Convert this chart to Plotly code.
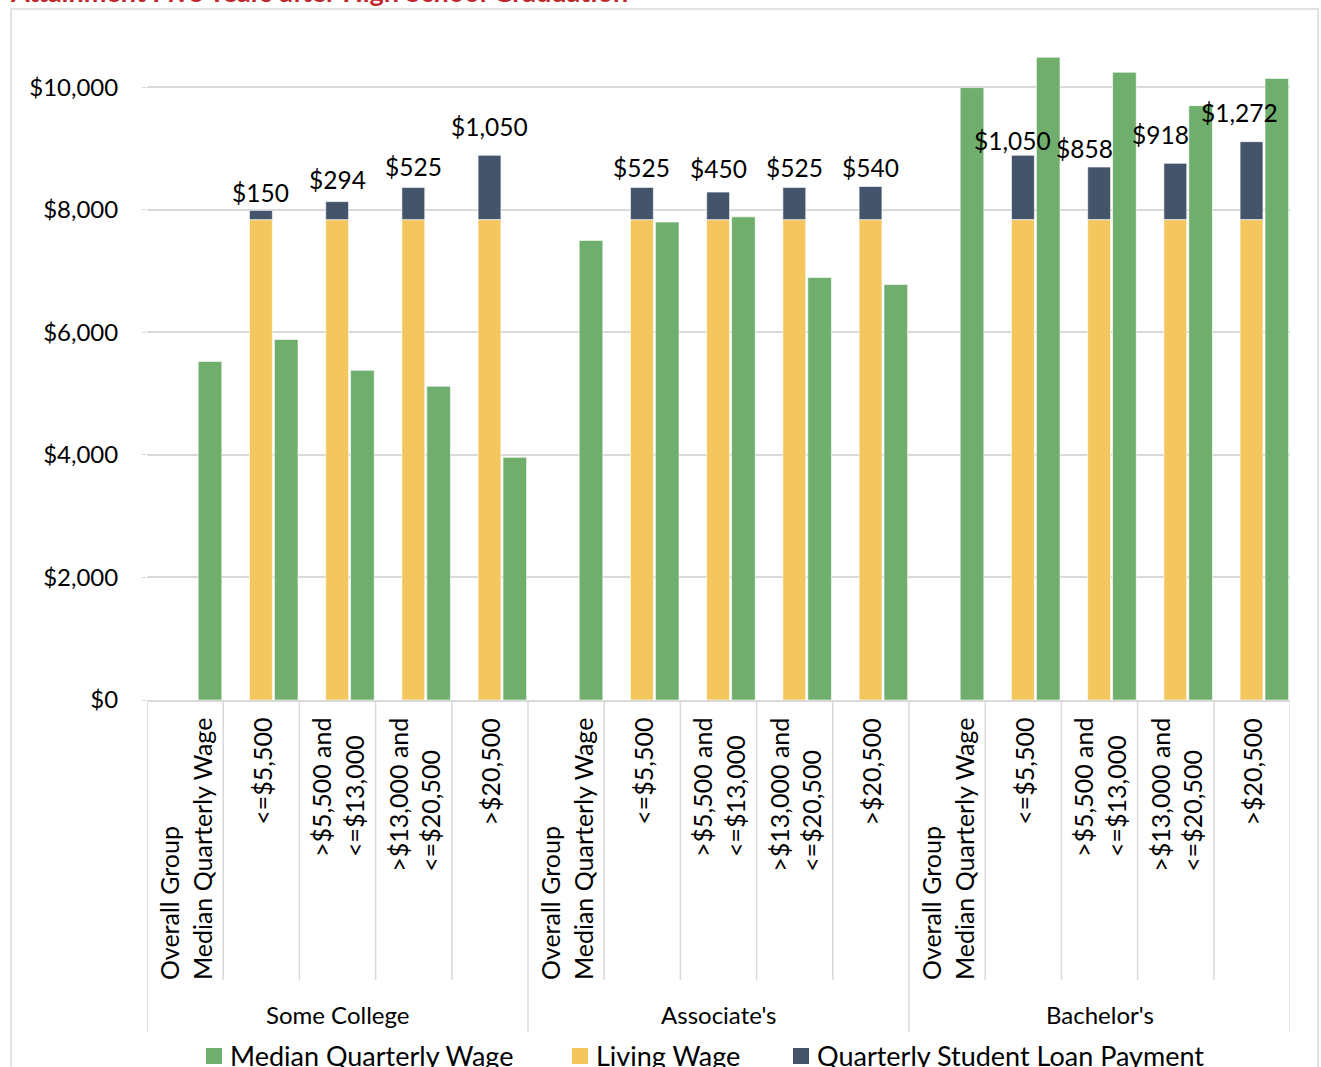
import plotly.graph_objects as go

# ---------------- data ----------------
groups = ["Some College", "Associate's", "Bachelor's"]
subcategories = [
    "Overall Group\nMedian Quarterly Wage",
    "<=$5,500",
    ">$5,500 and\n<=$13,000",
    ">$13,000 and\n<=$20,500",
    ">$20,500",
]
median_wage = [5525, 5885, 5380, 5120, 3960,
               7500, 7800, 7885, 6895, 6780,
               9995, 10490, 10245, 9700, 10145]
living_wage = [None, 7840, 7840, 7840, 7840,
               None, 7840, 7840, 7840, 7840,
               None, 7840, 7840, 7840, 7840]
loan_payment = [None, 150, 294, 525, 1050,
                None, 525, 450, 525, 540,
                None, 1050, 858, 918, 1272]
y_tick_values = [0, 2000, 4000, 6000, 8000, 10000]
y_tick_labels = ["$0", "$2,000", "$4,000", "$6,000", "$8,000", "$10,000"]
title_text = "Attainment Five Years after High School Graduation"
series_names = ["Median Quarterly Wage", "Living Wage", "Quarterly Student Loan Payment"]

# label nudges (pixels) for the loan data labels, as placed in the original
label_dx = [0, 0, 0, 0, 0, 0, 0, 0, 0, 0, 0, -10, -15, -15, -12]
label_dy = [0, 18, 22, 21, 29, 0, 20, 24, 20, 19, 0, 15, 19, 29, 29]

# ---------------- styling ----------------
GREEN = "#6FAE6C"
GOLD = "#F4C65E"
NAVY = "#44546A"
GRID = "#D9D9D9"
FONT = "Lato"

W, H = 1321, 1067
L, R, T, B = 147, 31, 26, 367
PW, PH = W - L - R, H - T - B


def px_x(px):
    return (px - L) / PW


def px_y(py):
    return (H - B - py) / PH


def esc(s):
    return s.replace("&", "&amp;").replace("<", "&lt;").replace(">", "&gt;").replace("\n", "<br>")


n_sub = len(subcategories)
cats = list(range(len(groups) * n_sub))

fig = go.Figure()
fig.add_trace(go.Bar(
    x=cats, y=living_wage, name=series_names[1],
    marker=dict(color=GOLD, line=dict(color="white", width=0.6)),
    offset=-0.155, width=0.30, showlegend=False,
))
fig.add_trace(go.Bar(
    x=cats, y=loan_payment, base=living_wage, name=series_names[2],
    marker=dict(color=NAVY, line=dict(color="white", width=0.6)),
    offset=-0.155, width=0.30, showlegend=False,
))
fig.add_trace(go.Bar(
    x=cats, y=median_wage, name=series_names[0],
    marker=dict(color=GREEN, line=dict(color="white", width=0.6)),
    offset=0.172, width=0.31, showlegend=False,
))

annotations = []
shapes = []

# loan data labels
for i in cats:
    if loan_payment[i] is None:
        continue
    annotations.append(dict(
        x=i - 0.005, y=living_wage[i] + loan_payment[i], xref="x", yref="y",
        text=f"${loan_payment[i]:,}", showarrow=False,
        xanchor="center", yanchor="middle",
        xshift=label_dx[i], yshift=label_dy[i],
        font=dict(family=FONT, size=24.5, color="black"),
    ))

# category labels (rotated)
for i in cats:
    sub = subcategories[i % n_sub]
    annotations.append(dict(
        x=i, y=px_y(716), xref="x", yref="paper",
        text=esc(sub), showarrow=False, textangle=-90,
        xanchor="center", yanchor="top", align="left",
        font=dict(family=FONT, size=25, color="black"),
    ))

# group labels
for g, name in enumerate(groups):
    annotations.append(dict(
        x=g * n_sub + (n_sub - 1) / 2, y=px_y(1015), xref="x", yref="paper",
        text=esc(name), showarrow=False, xanchor="center", yanchor="middle",
        font=dict(family=FONT, size=24, color="black"),
    ))

# separators of the multi-level category axis
for k in range(len(cats) + 1):
    is_group = k % n_sub == 0
    shapes.append(dict(
        type="line", xref="x", yref="paper",
        x0=k - 0.5, x1=k - 0.5, y0=0, y1=px_y(1032 if is_group else 980),
        line=dict(color=GRID, width=1.5),
    ))

# legend (manual, to match placement)
legend_items = [(series_names[0], GREEN, 206), (series_names[1], GOLD, 572), (series_names[2], NAVY, 793)]
for name, col, x0 in legend_items:
    shapes.append(dict(
        type="rect", xref="paper", yref="paper",
        x0=px_x(x0), x1=px_x(x0 + 16), y0=px_y(1048), y1=px_y(1064),
        fillcolor=col, line=dict(width=0),
    ))
    annotations.append(dict(
        x=px_x(x0 + 22), y=px_y(1055), xref="paper", yref="paper",
        text=name, showarrow=False, xanchor="left", yanchor="middle",
        font=dict(family=FONT, size=27, color="black"),
    ))

# chart border
shapes.append(dict(
    type="rect", xref="paper", yref="paper",
    x0=px_x(11), x1=px_x(1318), y0=px_y(1080), y1=px_y(9),
    line=dict(color=GRID, width=1.5), fillcolor="rgba(0,0,0,0)",
))

# title (cut off at top as in original)
annotations.append(dict(
    x=px_x(8), y=px_y(10), xref="paper", yref="paper",
    text=f"<b>{title_text}</b>", showarrow=False,
    xanchor="left", yanchor="bottom",
    font=dict(family=FONT, size=27, color="#C0272D"),
))

fig.update_layout(
    width=W, height=H,
    margin=dict(l=L, r=R, t=T, b=B, autoexpand=False),
    paper_bgcolor="white", plot_bgcolor="white",
    barmode="overlay",
    showlegend=False,
    xaxis=dict(
        range=[-0.5, len(cats) - 0.5], showticklabels=False, showgrid=False,
        zeroline=False, showline=True, linecolor=GRID, linewidth=1.5, ticks="",
    ),
    yaxis=dict(
        range=[0, 11000], tickvals=y_tick_values, ticktext=y_tick_labels,
        showgrid=True, gridcolor=GRID, gridwidth=1.5, zeroline=False,
        showline=False, ticks="outside", ticklen=4, tickcolor=GRID,
        ticklabelstandoff=19,
        tickfont=dict(family=FONT, size=24, color="black"),
    ),
    annotations=annotations,
    shapes=shapes,
    font=dict(family=FONT),
)

fig.write_html(
    "out.html",
    config={"displayModeBar": False},
    post_script="document.body.style.margin='0';document.body.style.padding='0';document.body.style.overflow='hidden';",
)
